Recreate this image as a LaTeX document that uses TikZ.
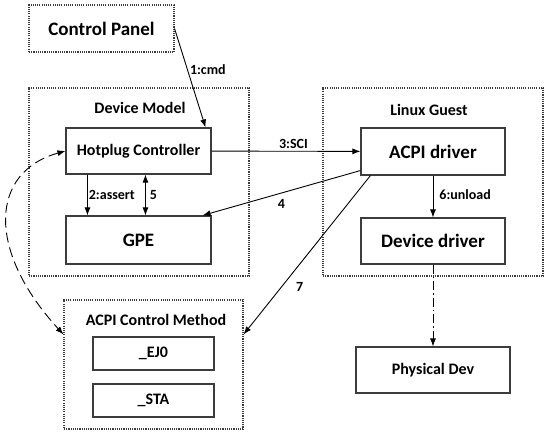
\documentclass[tikz,border=0pt]{standalone}
\usepackage{fontspec}
\setmainfont{Carlito}
\usetikzlibrary{arrows.meta,positioning,calc}
\definecolor{linecol}{RGB}{60,60,60}

\begin{document}
\begin{tikzpicture}[x=1pt, y=-1pt,
    >={Latex[length=8pt,width=6pt]},
    block/.style={rectangle, draw=linecol, line width=1.1pt, align=center, font=\fontsize{19}{21}\selectfont\bfseries, minimum width=145pt, minimum height=46pt, inner sep=0pt},
    group/.style={rectangle, draw=linecol, line width=1.1pt, dash pattern=on 1.1pt off 1.1pt, inner sep=0pt},
    title/.style={font=\fontsize{16}{18}\selectfont\bfseries},
    lbl/.style={font=\fontsize{14}{16}\selectfont\bfseries, inner sep=2pt},
    arrow/.style={->, line width=0.9pt},
]
\useasboundingbox (0,0) rectangle (550,435);

% containers
\node[group, minimum width=220pt, minimum height=188pt] (devmodel) at (139,182) {};
\node[title] (devmodeltitle) at (140,108) {Device Model};
\node[group, minimum width=220pt, minimum height=188pt] (guest) at (433,182) {};
\node[title] (guesttitle) at (429,110) {Linux Guest};
\node[group, minimum width=179pt, minimum height=129pt] (acm) at (153.5,364.5) {};
\node[title] (acmtitle) at (156,320) {ACPI Control Method};
\node[group, minimum width=145pt, minimum height=47pt, font=\fontsize{19}{21}\selectfont\bfseries] (panel) at (101.5,28.5) {Control Panel};

% blocks
\node[block, font=\fontsize{16}{18}\selectfont\bfseries] (hotplug) at (138.5,151) {Hotplug Controller};
\node[block, minimum height=48pt] (gpe) at (138.5,240) {GPE};
\node[block, minimum width=144pt, minimum height=47pt] (acpi) at (433,151.5) {ACPI driver};
\node[block, minimum width=144pt] (devdrv) at (433,241) {Device driver};
\node[block, minimum width=154pt, font=\fontsize{16}{18}\selectfont\bfseries] (phys) at (433,370) {Physical Dev};
\node[block, minimum width=121pt, minimum height=33pt, font=\fontsize{16}{18}\selectfont\bfseries] (ej0) at (153.5,353.5) {\_EJ0};
\node[block, minimum width=121pt, minimum height=33pt, font=\fontsize{16}{18}\selectfont\bfseries] (sta) at (153.5,400.5) {\_STA};

% connectors
\draw[arrow] (panel.east) -- node[lbl, right, pos=0.42] {1:cmd} ($(hotplug.north east)+(-6,0)$);
\draw[arrow] (hotplug) -- node[lbl, above, pos=0.55] {3:SCI} (acpi);
\draw[arrow] ($(hotplug.south west)+(22,0)$) -- node[lbl, right, inner sep=1pt] {2:assert} ($(gpe.north west)+(22,0)$);
\draw[<->, line width=0.9pt] ($(hotplug.south west)+(80,0)$) -- node[lbl, right, inner sep=4pt] {5} ($(gpe.north west)+(80,0)$);
\draw[arrow] (acpi) -- node[lbl, right, inner sep=6pt, pos=0.45] {6:unload} (devdrv);
\draw[arrow] ($(acpi.south west)+(0,-5)$) -- node[lbl, below=4pt] {4} ($(gpe.north east)+(-9,0)$);
\draw[arrow] ($(acpi.south west)+(10,0)$) -- node[lbl, right=12pt, pos=0.7] {7} ($(acm.north east)+(0,35)$);
\draw[arrow, dash pattern=on 9pt off 3pt on 1.5pt off 3pt] (devdrv) -- (phys);
\draw[<->, line width=0.9pt, dashed, dash pattern=on 10pt off 5pt] (hotplug.west) .. controls (-10,172) and (-14,250) .. ($(acm.north west)+(0,35)$);
\end{tikzpicture}
\end{document}
